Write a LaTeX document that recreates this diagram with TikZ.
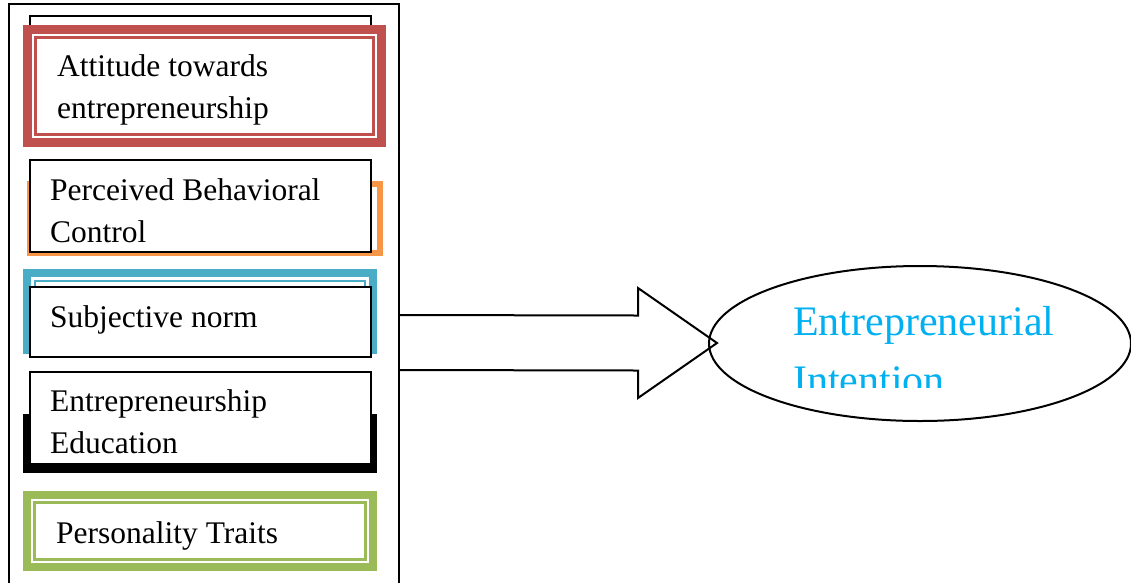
\documentclass[tikz,border=0pt]{standalone}
\usepackage{fontspec}
\setmainfont{Liberation Serif}
\usetikzlibrary{shapes.geometric,calc}

\definecolor{attred}{HTML}{C0504D}
\definecolor{pbcorange}{HTML}{F79646}
\definecolor{snblue}{HTML}{4BACC6}
\definecolor{ptgreen}{HTML}{9BBB59}
\definecolor{eiblue}{HTML}{00B0F0}

\tikzset{
  blackbox/.style={draw=black, line width=2, fill=white},
  thickband/.style={draw=#1, line width=8.5, fill=white},
  thinband/.style={draw=#1, line width=2.2},
  % the base anchor of a multi-line label sits on its last line
  factor/.style={anchor=base west, inner sep=0, align=left, text=black,
    font=\fontsize{31.5}{41.3}\selectfont},
  blockarrow/.style={draw=black, line width=2, line join=miter},
  outcome/.style={ellipse, draw=black, line width=2, inner sep=0,
    minimum width=422, minimum height=155},
  outcometext/.style={anchor=base west, inner sep=0, align=left, text=eiblue,
    font=\fontsize{42}{59.5}\selectfont}
}

\begin{document}
\begin{tikzpicture}[x=1pt,y=-1pt]
\useasboundingbox (0,0) rectangle (1131,582);
\clip (0,0) rectangle (1131,582);
\fill[white] (0,0) rectangle (1131,582);

% frame holding the factors (open at the bottom)
\draw[line width=2] (9,600) -- (9,4) -- (399,4) -- (399,600);

% attitude towards entrepreneurship
\path[blackbox] (30,16) rectangle (371,120);
\path[thickband=attred] (27.5,29.5) rectangle (381.5,142.5);
\path[thinband=attred] (35.5,37.5) rectangle (373.5,134.5);
\node[factor] (att) at (57,118) {Attitude towards\\entrepreneurship};

% perceived behavioral control
\path[draw=pbcorange, line width=6] (30,184) rectangle (380,253);
\path[blackbox] (30,160) rectangle (371,252);
\node[factor] (pbc) at (50,242) {Perceived Behavioral\\Control};

% subjective norm
\path[thickband=snblue] (27,273) rectangle (373,350);
\path[thinband=snblue] (35,281) rectangle (365,342);
\path[blackbox] (30,287) rectangle (371,357);
\node[factor] (sn) at (50,327) {Subjective norm};

% entrepreneurship education
\fill[black] (23,414) rectangle (377,473);
\path[blackbox] (30,372) rectangle (371,464);
\node[factor] (ee) at (50,453) {Entrepreneurship\\Education};

% personality traits
\path[thickband=ptgreen] (27,495) rectangle (373,567);
\path[thinband=ptgreen] (34.5,502.5) rectangle (365.5,559.5);
\node[factor] (pt) at (56,543) {Personality Traits};

% outcome and the block arrow leading to it
\node[outcome] (ei) at (920,343.5) {};
\coordinate (src) at (399,342.5);
\coordinate (tip) at ($(ei.west)+(9,-0.5)$);
\draw[blockarrow] ($(src)+(0,-27.5)$) -- ($(tip)+(-79,-27.5)$)
  -- ($(tip)+(-79,-55)$) -- (tip) -- ($(tip)+(-79,55)$)
  -- ($(tip)+(-79,27.5)$) -- ($(src)+(0,27.5)$);

\begin{scope}
  \clip (700,250) rectangle (1131,387);
  \node[outcometext] (eitext) at (793,394.5) {Entrepreneurial\\Intention};
\end{scope}
\end{tikzpicture}
\end{document}
